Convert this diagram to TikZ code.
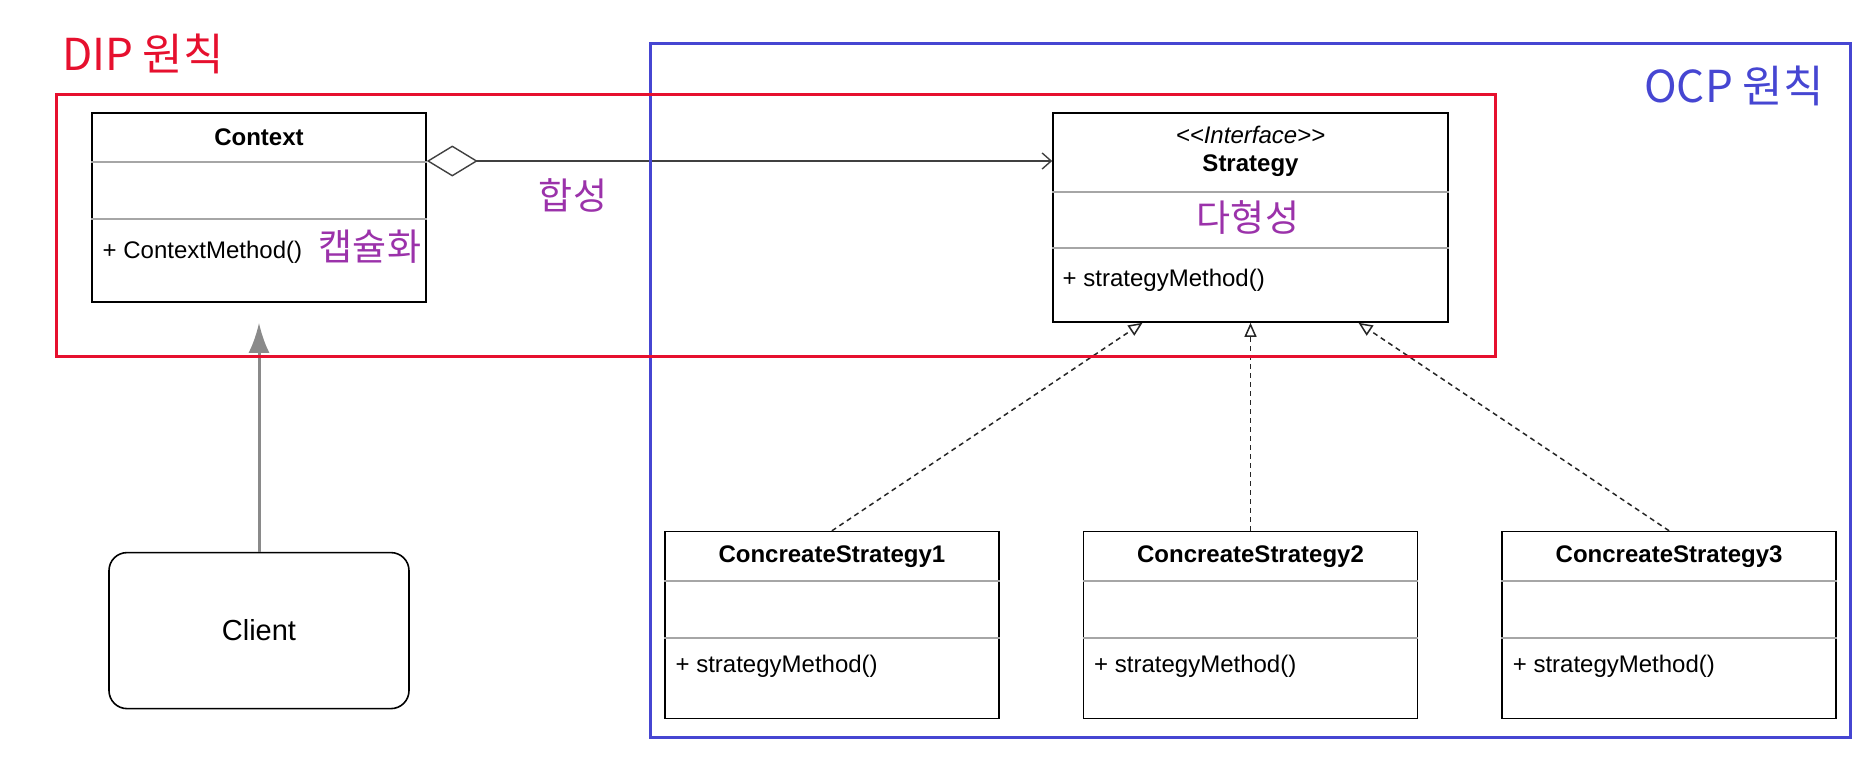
\documentclass[tikz,border=0pt]{standalone}
\usepackage{fontspec}
\setmainfont{Liberation Sans}
\newfontfamily\hangul{Noto Sans CJK KR}
\usepackage{tikz}
\usetikzlibrary{arrows.meta,positioning}
\definecolor{dipred}{HTML}{E6102E}
\definecolor{ocpblue}{HTML}{4646D2}
\definecolor{notepurple}{HTML}{9B32AA}
\definecolor{linkgray}{HTML}{8A8A8A}
\definecolor{splitgray}{HTML}{A6A6A6}
\tikzset{
  >={Latex[length=30pt,width=21pt]},
  classbox/.style={draw=black,line width=1.6pt,fill=white,inner sep=0pt},
  clientbox/.style={draw=black,line width=1.6pt,fill=white,rounded corners=18pt,
    minimum width=300pt,minimum height=156pt,font=\fontsize{29}{32}\selectfont},
  titletext/.style={font=\fontsize{24}{28}\selectfont\bfseries,align=center},
  methodtext/.style={font=\fontsize{24}{28}\selectfont,anchor=west},
  divider/.style={draw=splitgray,line width=1.5pt},
  note/.style={font=\hangul\fontsize{37}{40}\selectfont,text=notepurple},
  framelabel/.style={font=\hangul\fontsize{44}{48}\selectfont},
  aggr/.style={draw=black!75,line width=1.4pt,
    {Diamond[open,length=51pt,width=31pt]}-{Straight Barb[length=9pt,width=16pt]}},
  realize/.style={draw=black!85,line width=1.5pt,dash pattern=on 5pt off 4pt,
    -{Triangle[open,length=14pt,width=12pt]}},
  uses/.style={->,draw=linkgray,line width=3pt},
  dipframe/.style={draw=dipred,line width=3pt},
  ocpframe/.style={draw=ocpblue,line width=3pt}
}
\begin{document}
\begin{tikzpicture}[x=1pt,y=-1pt]
  \useasboundingbox (0,0) rectangle (1866,782);
  % classes
  \node[classbox,minimum width=334pt,minimum height=189pt] (context) at (259,207.5) {};
  \node[classbox,minimum width=395pt,minimum height=209pt] (strategy) at (1250.5,217.5) {};
  \node[classbox,minimum width=334pt,minimum height=187pt,below=208pt of strategy] (cs2) {};
  \node[classbox,minimum width=334pt,minimum height=187pt,left=83pt of cs2] (cs1) {};
  \node[classbox,minimum width=334pt,minimum height=187pt,right=83pt of cs2] (cs3) {};
  \node[clientbox,below=249pt of context] (client) {Client};

  % compartments
  \node[titletext] (ctxname) at ([yshift=-25pt]context.north) {Context};
  \draw[divider] ([yshift=-50pt]context.north west) -- ([yshift=-50pt]context.north east);
  \draw[divider] ([yshift=-107pt]context.north west) -- ([yshift=-107pt]context.north east);
  \node[methodtext] (ctxop) at ([xshift=8pt,yshift=-140pt]context.north west) {+ ContextMethod()};

  \node[titletext] (stname) at ([yshift=-39pt]strategy.north) {{\mdseries\itshape <\kern0pt<Interface>\kern0pt>}\\Strategy};
  \draw[divider] ([yshift=-80pt]strategy.north west) -- ([yshift=-80pt]strategy.north east);
  \draw[divider] ([yshift=-136pt]strategy.north west) -- ([yshift=-136pt]strategy.north east);
  \node[methodtext] (stop) at ([xshift=7pt,yshift=-168pt]strategy.north west) {+ strategyMethod()};

  \foreach \i in {1,2,3} {
    \node[titletext] (cs\i name) at ([yshift=-26pt]cs\i.north) {ConcreateStrategy\i};
    \draw[divider] ([yshift=-50pt]cs\i.north west) -- ([yshift=-50pt]cs\i.north east);
    \draw[divider] ([yshift=-107pt]cs\i.north west) -- ([yshift=-107pt]cs\i.north east);
    \node[methodtext] (cs\i op) at ([xshift=8pt,yshift=-135pt]cs\i.north west) {+ strategyMethod()};
  }

  % handwritten notes
  \node[note] (encap) at (370,247) {캡슐화};
  \node[note] (compose) at (573,195) {합성};
  \node[note] (poly) at (1248,218) {다형성};
  \node[framelabel,text=dipred] (diplabel) at (143,54) {DIP 원칙};
  \node[framelabel,text=ocpblue] (ocplabel) at (1734,86) {OCP 원칙};

  % relations
  \draw[aggr] ([yshift=46.5pt]context.east) -- ([yshift=46.5pt]context.east -| strategy.west);
  \draw[realize] (cs1.north) -- ([xshift=-108pt]strategy.south);
  \draw[realize] (cs2.north) -- (strategy.south);
  \draw[realize] (cs3.north) -- ([xshift=108pt]strategy.south);
  \draw[uses,shorten >=20pt] (client.north) -- (client.north |- context.south);

  % principle frames
  \draw[ocpframe] (650,43) rectangle (1850,737);
  \draw[dipframe] (56,94) rectangle (1495,356);
\end{tikzpicture}
\end{document}
